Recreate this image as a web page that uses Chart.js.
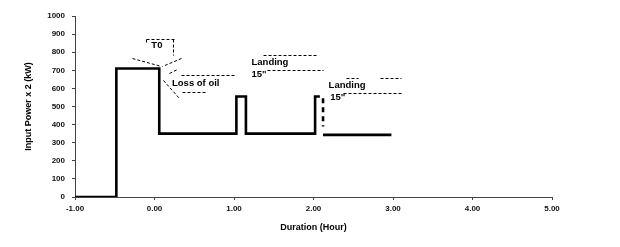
<!DOCTYPE html>
<html>
<head>
<meta charset="utf-8">
<script src="https://cdn.jsdelivr.net/npm/chart.js@4.4.1/dist/chart.umd.min.js"></script>
<style>
html,body{margin:0;padding:0;background:#fff;}
#wrap{width:620px;height:247px;position:relative;}
</style>
</head>
<body>
<div id="wrap"><canvas id="c" width="620" height="247"></canvas></div>
<script>
// ---- data ----
const durations = [-1.00, -0.48, -0.48, 0.06, 0.06, 1.03, 1.03, 1.15, 1.15, 2.02, 2.02, 2.08];
const power     = [0, 0, 710, 710, 350, 350, 555, 555, 350, 350, 555, 555];
const dashDurations = [2.12, 2.12];
const dashPower     = [545, 390];
const tailDurations = [2.12, 2.98];
const tailPower     = [343, 343];
const xTicks = [-1, 0, 1, 2, 3, 4, 5];
const yTicks = [0, 100, 200, 300, 400, 500, 600, 700, 800, 900, 1000];

const toPts = (xs, ys) => xs.map((x, i) => ({x: x, y: ys[i]}));

// annotation texts and dashed guide lines, in data units
const labels = [
  {text: 'T0', x: 0.03, y: 840, align: 'center'},
  {text: 'Loss of oil', x: 0.22, y: 630, align: 'left'},
  {text: 'Landing', x: 1.22, y: 746, align: 'left'},
  {text: '15"', x: 1.22, y: 680, align: 'left'},
  {text: 'Landing', x: 2.19, y: 619, align: 'left'},
  {text: '15"', x: 2.21, y: 553, align: 'left'}
];
const guides = [
  [[-0.11, 873], [0.24, 873]],
  [[-0.11, 873], [-0.11, 856]],
  [[0.23, 873], [0.23, 785]],
  [[-0.28, 768], [0.08, 724]],
  [[0.33, 768], [0.09, 724]],
  [[0.11, 646], [0.31, 547]],
  [[0.18, 685], [0.28, 707]],
  [[0.33, 674], [1.02, 674]],
  [[0.34, 580], [0.63, 580]],
  [[1.37, 785], [2.04, 785]],
  [[1.41, 702], [2.12, 702]],
  [[2.37, 575], [3.10, 575]],
  [[2.41, 657], [2.56, 657]],
  [[2.84, 657], [3.10, 657]]
];

const FONT = "'Liberation Sans', Arial, sans-serif";

const annotate = {
  id: 'annotate',
  afterDatasetsDraw(chart) {
    const {ctx, scales: {x, y}} = chart;
    ctx.save();
    ctx.strokeStyle = '#000';
    ctx.lineWidth = 1;
    ctx.setLineDash([3, 2]);
    guides.forEach(g => {
      const x1 = Math.round(x.getPixelForValue(g[0][0])) + 0.5;
      const y1 = Math.round(y.getPixelForValue(g[0][1])) + 0.5;
      const x2 = Math.round(x.getPixelForValue(g[1][0])) + 0.5;
      const y2 = Math.round(y.getPixelForValue(g[1][1])) + 0.5;
      ctx.beginPath();
      ctx.moveTo(x1, y1);
      ctx.lineTo(x2, y2);
      ctx.stroke();
    });
    ctx.setLineDash([]);
    ctx.fillStyle = '#000';
    ctx.font = "bold 9.5px " + FONT;
    ctx.textBaseline = 'middle';
    labels.forEach(l => {
      ctx.textAlign = l.align;
      ctx.fillText(l.text, x.getPixelForValue(l.x), y.getPixelForValue(l.y));
    });
    ctx.restore();
  }
};

new Chart(document.getElementById('c'), {
  type: 'line',
  data: {
    datasets: [
      {data: toPts(durations, power), borderColor: '#000', borderWidth: 2.6, pointRadius: 0, tension: 0, fill: false},
      {data: toPts(dashDurations, dashPower), borderColor: '#000', borderWidth: 2.6, borderDash: [5, 4], pointRadius: 0, fill: false},
      {data: toPts(tailDurations, tailPower), borderColor: '#000', borderWidth: 2.6, pointRadius: 0, fill: false}
    ]
  },
  options: {
    responsive: false,
    devicePixelRatio: 1,
    animation: false,
    layout: {padding: {left: 0, right: 68, top: 16, bottom: 0}},
    plugins: {legend: {display: false}, tooltip: {enabled: false}},
    scales: {
      x: {
        type: 'linear',
        min: -1, max: 5,
        afterFit: s => { s.height = 50; },
        afterBuildTicks: s => { s.ticks = xTicks.map(v => ({value: v})); },
        ticks: {
          padding: 4,
          color: '#111',
          font: {family: FONT, size: 8, weight: 'bold'},
          callback: v => Number(v).toFixed(2)
        },
        grid: {display: true, drawOnChartArea: false, tickLength: 3, color: '#444'},
        border: {display: true, color: '#444', width: 1},
        title: {
          display: true, text: 'Duration (Hour)', color: '#000',
          font: {family: FONT, size: 9, weight: 'bold'},
          padding: {top: 0, bottom: 14}
        }
      },
      y: {
        type: 'linear',
        min: 0, max: 1000,
        afterFit: s => { s.width = 75; },
        afterBuildTicks: s => { s.ticks = yTicks.map(v => ({value: v})); },
        ticks: {
          padding: 7,
          color: '#111',
          font: {family: FONT, size: 8, weight: 'bold'},
          callback: v => String(v)
        },
        grid: {display: true, drawOnChartArea: false, tickLength: 3, color: '#444'},
        border: {display: true, color: '#444', width: 1},
        title: {
          display: true, text: 'Input Power x 2 (kW)', color: '#000',
          font: {family: FONT, size: 9, weight: 'bold'},
          padding: {top: 23, bottom: 0}
        }
      }
    }
  },
  plugins: [annotate]
});
</script>
</body>
</html>
